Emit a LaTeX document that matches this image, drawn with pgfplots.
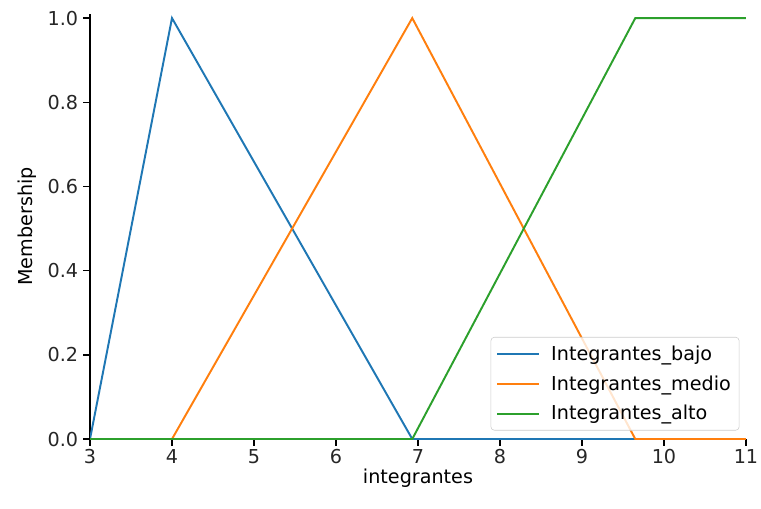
\documentclass[border=0pt]{standalone}
\usepackage{pgfplots}
\pgfplotsset{compat=1.18}
\usepackage{fontspec}
\setmainfont{DejaVu Sans}

\definecolor{mplblue}{HTML}{1F77B4}
\definecolor{mplorange}{HTML}{FF7F0E}
\definecolor{mplgreen}{HTML}{2CA02C}

% membership functions (break points of each piecewise-linear curve)
\pgfplotstableread{
x y
3 0
4 1
6.93 0
11 0
}\bajo
\pgfplotstableread{
x y
3 0
4 0
6.93 1
9.65 0
11 0
}\medio
\pgfplotstableread{
x y
3 0
6.93 0
9.65 1
11 1
}\alto

\begin{document}
\begin{tikzpicture}[x=1pt,y=1pt]
\useasboundingbox (-64.8,-49.7) rectangle (483.1,316.1);
\begin{axis}[
    at={(0,0)}, anchor=south west,
    scale only axis,
    width=472.3pt, height=306.1pt,
    xmin=3, xmax=11, ymin=0, ymax=1.01,
    axis x line*=bottom, axis y line*=left,
    axis line style={line width=1pt, -},
    tick align=outside,
    major tick length=5pt,
    tick style={line width=1pt, black},
    xtick={3,4,...,11},
    ytick={0,0.2,0.4,0.6,0.8,1.0},
    yticklabel style={/pgf/number format/.cd, fixed, fixed zerofill, precision=1},
    /pgf/number format/assume math mode=true,
    ticklabel style={font=\fontsize{13.8}{16}\selectfont, text=black!85},
    xticklabel style={yshift=1pt},
    xlabel={integrantes}, ylabel={Membership},
    label style={font=\fontsize{13.8}{16}\selectfont},
    xlabel style={yshift=3pt},
    ylabel style={yshift=1pt},
    legend style={font=\fontsize{13.8}{16}\selectfont, draw=black!20, rounded corners=2.5pt,
        fill=white, fill opacity=0.8, text opacity=1, row sep=5.5pt,
        inner xsep=4pt, inner ysep=4pt,
        at={(0.99,0.02)}, anchor=south east},
    legend cell align=left,
    legend image code/.code={\draw[#1] (0pt,0pt) -- (30pt,0pt); \path (36pt,0pt);},
]
\addplot[mplblue, line width=1.4pt] table {\bajo};
\addplot[mplorange, line width=1.4pt] table {\medio};
\addplot[mplgreen, line width=1.4pt] table {\alto};
\legend{Integrantes\_bajo, Integrantes\_medio, Integrantes\_alto}
\end{axis}
\end{tikzpicture}
\end{document}
